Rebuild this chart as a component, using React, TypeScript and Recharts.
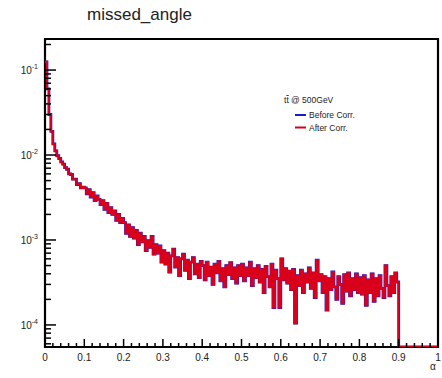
import { LineChart, Line, XAxis, YAxis, ReferenceArea } from 'recharts';

// histogram of missed angle, bin width 0.005, 0 .. 1
const BIN_WIDTH = 0.005;

const afterCorr = [
  // 0.0 - 0.1
  0.125, 0.06, 0.03, 0.019, 0.0135, 0.0112, 0.0098, 0.0091, 0.0083, 0.0078,
  0.0071, 0.0068, 0.006, 0.0059, 0.0052, 0.0052, 0.0045, 0.0046, 0.0041, 0.0042,
  // 0.1 - 0.2
  0.0041, 0.0035, 0.0039, 0.0032, 0.0036, 0.0029, 0.0033, 0.003, 0.0026, 0.0029,
  0.0023, 0.0027, 0.0021, 0.0024, 0.002, 0.0022, 0.0017, 0.002, 0.0016, 0.0018,
  // 0.2 - 0.3
  0.0016, 0.0012, 0.0015, 0.0011, 0.0014, 0.00105, 0.0013, 0.00088, 0.0012, 0.00095,
  0.0011, 0.00075, 0.00098, 0.00082, 0.0011, 0.00068, 0.00088, 0.0007, 0.00085, 0.00055,
  // 0.3 - 0.4
  0.00075, 0.00052, 0.0007, 0.00042, 0.00065, 0.00078, 0.00048, 0.00062, 0.00038, 0.0006,
  0.00068, 0.00044, 0.00058, 0.00035, 0.00055, 0.00062, 0.0004, 0.00052, 0.00036, 0.00056,
  // 0.4 - 0.5
  0.0005, 0.00034, 0.00055, 0.00038, 0.00048, 0.0003, 0.00052, 0.00041, 0.00056, 0.00033,
  0.00046, 0.00028, 0.0005, 0.00039, 0.00054, 0.00035, 0.00047, 0.00031, 0.0005, 0.00038,
  // 0.5 - 0.6
  0.00052, 0.00033, 0.00047, 0.00038, 0.00055, 0.00029, 0.00046, 0.00036, 0.0005, 0.00032,
  0.00045, 0.00024, 0.00049, 0.00037, 0.00028, 0.00052, 0.00016, 0.00044, 0.00035, 0.00016,
  // 0.6 - 0.7
  0.0006, 0.00034, 0.00046, 0.00031, 0.00043, 0.00026, 0.00045, 0.000105, 0.00038, 0.00029,
  0.00044, 0.00024, 0.0004, 0.00032, 0.00047, 0.00027, 0.00041, 0.00021, 0.00058, 0.00033,
  // 0.7 - 0.8
  0.00039, 0.00024, 0.00037, 0.00015, 0.00035, 0.00026, 0.00042, 0.00028, 0.0002, 0.00037,
  0.0003, 0.00018, 0.00039, 0.00025, 0.00041, 0.00022, 0.00035, 0.00026, 0.0004, 0.00024,
  // 0.8 - 0.9
  0.00036, 0.00023, 0.00038, 0.00017, 0.00034, 0.00024, 0.0004, 0.00019, 0.00035, 0.00022,
  0.00038, 0.00027, 0.00021, 0.0005, 0.00029, 0.00022, 0.00037, 0.00024, 0.00041, 0.00032,
  // 0.9 - 1.0 (empty)
  0, 0, 0, 0, 0, 0, 0, 0, 0, 0,
  0, 0, 0, 0, 0, 0, 0, 0, 0, 0,
];
// the correction does not change this distribution
const beforeCorr = afterCorr;

const Y_MIN = 5.5e-5;
const Y_MAX = 0.232;

const yTicks = [
  6e-5, 7e-5, 8e-5, 9e-5,
  1e-4, 2e-4, 3e-4, 4e-4, 5e-4, 6e-4, 7e-4, 8e-4, 9e-4,
  1e-3, 2e-3, 3e-3, 4e-3, 5e-3, 6e-3, 7e-3, 8e-3, 9e-3,
  1e-2, 2e-2, 3e-2, 4e-2, 5e-2, 6e-2, 7e-2, 8e-2, 9e-2,
  1e-1, 2e-1,
];
const xTicks = [
  0, 0.02, 0.04, 0.06, 0.08, 0.1, 0.12, 0.14, 0.16, 0.18,
  0.2, 0.22, 0.24, 0.26, 0.28, 0.3, 0.32, 0.34, 0.36, 0.38,
  0.4, 0.42, 0.44, 0.46, 0.48, 0.5, 0.52, 0.54, 0.56, 0.58,
  0.6, 0.62, 0.64, 0.66, 0.68, 0.7, 0.72, 0.74, 0.76, 0.78,
  0.8, 0.82, 0.84, 0.86, 0.88, 0.9, 0.92, 0.94, 0.96, 0.98, 1,
];
const xLabels = ['0', '0.1', '0.2', '0.3', '0.4', '0.5', '0.6', '0.7', '0.8', '0.9', '1'];

const W = 442;
const H = 378;
const PLOT_LEFT = 45;
const PLOT_TOP = 39;
const PLOT_BOTTOM = 347;
const FONT = '"Liberation Sans", Arial, Helvetica, sans-serif';

// empty bins are drawn on the bottom of the frame, like ROOT does
const floor = (v: number) => (v > Y_MIN ? v : Y_MIN);
const rows = afterCorr.map((v, i) => ({
  x: +(i * BIN_WIDTH).toFixed(4),
  before: floor(beforeCorr[i]),
  after: floor(v),
}));
rows.push({ x: 1, before: rows[rows.length - 1].before, after: rows[rows.length - 1].after });

const YTick = (props: any) => {
  const { y, payload } = props;
  const lg = Math.log10(payload.value);
  const exp = Math.round(lg);
  const major = Math.abs(lg - exp) < 1e-6;
  return (
    <g>
      <line x1={PLOT_LEFT} x2={PLOT_LEFT + (major ? 11 : 6)} y1={y} y2={y} stroke="#000" strokeWidth={1.5} />
      {major && (
        <text x={38} y={y + 4} textAnchor="end" fontSize={10} fontFamily={FONT} fill="#222">
          10<tspan dy={-5} fontSize={7}>{exp}</tspan>
        </text>
      )}
    </g>
  );
};

const XTick = (props: any) => {
  const { x, payload } = props;
  const v = payload.value;
  const idx = Math.round(v * 10);
  const major = Math.abs(v * 10 - idx) < 1e-6;
  return (
    <g>
      <line x1={x} x2={x} y1={PLOT_BOTTOM} y2={PLOT_BOTTOM - (major ? 8 : 4)} stroke="#000" strokeWidth={1.5} />
      {major && (
        <text x={x} y={PLOT_BOTTOM + 14} textAnchor="middle" fontSize={10} fontFamily={FONT} fill="#222">
          {xLabels[idx]}
        </text>
      )}
    </g>
  );
};

export default function App() {
  return (
    <div style={{ position: 'absolute', left: 0, top: 0, width: W, height: H, background: '#fff' }}>
      <LineChart width={W} height={H} data={rows} margin={{ top: PLOT_TOP, right: 4, bottom: 0, left: 0 }}>
        <XAxis
          dataKey="x"
          type="number"
          domain={[0, 1]}
          ticks={xTicks}
          interval={0}
          height={H - PLOT_BOTTOM}
          axisLine={false}
          tickLine={false}
          tick={<XTick />}
        />
        <YAxis
          scale="log"
          domain={[Y_MIN, Y_MAX]}
          allowDataOverflow
          ticks={yTicks}
          interval={0}
          width={PLOT_LEFT}
          axisLine={false}
          tickLine={false}
          tick={<YTick />}
        />
        <Line
          dataKey="before"
          type="stepAfter"
          stroke="#1a1ad0"
          strokeWidth={2.8}
          dot={false}
          isAnimationActive={false}
        />
        <Line
          dataKey="after"
          type="stepAfter"
          stroke="#d8001a"
          strokeWidth={2}
          dot={false}
          isAnimationActive={false}
        />
        <ReferenceArea x1={0} x2={1} y1={Y_MIN} y2={Y_MAX} fill="none" stroke="#000" strokeWidth={2.2} ifOverflow="visible" />
      </LineChart>
      <svg width={W} height={H} style={{ position: 'absolute', left: 0, top: 0, pointerEvents: 'none' }}>
        <text x={87} y={20} fontSize={17} fontFamily={FONT} fill="#222">missed_angle</text>
        <text x={284} y={103} fontSize={8.5} fontFamily={FONT} fill="#222">
          t<tspan textDecoration="overline">t</tspan> @ 500GeV
        </text>
        <line x1={295} x2={306} y1={115} y2={115} stroke="#1a1ad0" strokeWidth={2} />
        <text x={309} y={118} fontSize={8.5} fontFamily={FONT} fill="#222">Before Corr.</text>
        <line x1={295} x2={306} y1={127.5} y2={127.5} stroke="#d8001a" strokeWidth={2} />
        <text x={309} y={130.5} fontSize={8.5} fontFamily={FONT} fill="#222">After Corr.</text>
        <text x={430} y={370} fontSize={10} fontFamily={FONT} fill="#222">α</text>
      </svg>
    </div>
  );
}
